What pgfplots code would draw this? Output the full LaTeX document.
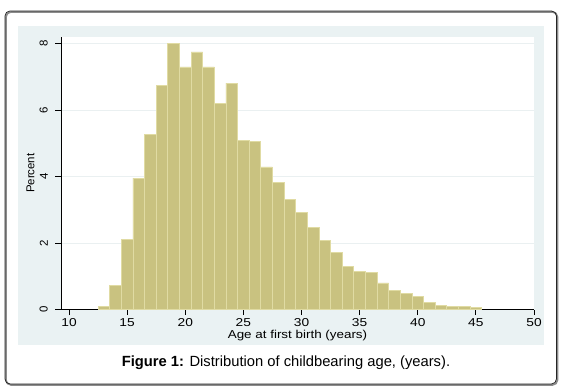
\documentclass[border=0pt]{standalone}
\usepackage{pgfplots}
\pgfplotsset{compat=1.18}
\usepackage{fontspec}
\setmainfont{Liberation Sans}
\definecolor{bgblue}{RGB}{234,242,243}
\definecolor{barfill}{RGB}{201,194,128}
\definecolor{baredge}{RGB}{224,219,163}
\definecolor{gridc}{RGB}{234,240,241}
\begin{document}
\begin{tikzpicture}
\useasboundingbox (0bp,0bp) rectangle (563bp,-389bp);
% outer frame with shadow
\draw[black!45, line width=1.6bp, rounded corners=5bp] (6bp,-12bp) rectangle (557.5bp,-385bp);
\draw[black!85, line width=0.8bp, rounded corners=5bp] (5bp,-11bp) rectangle (556.5bp,-384bp);
\fill[bgblue] (18bp,-26bp) rectangle (544bp,-345bp);
\begin{axis}[
  scale only axis,
  width=473bp, height=272.5bp,
  at={(61bp,-309.5bp)}, anchor=south west,
  xmin=9.31, xmax=50, ymin=0, ymax=8.2,
  axis x line*=bottom, axis y line*=left,
  axis line style={black, line width=0.9bp},
  axis background/.style={fill=white},
  xtick={10,15,...,50}, ytick={0,2,4,6,8},
  tick align=outside, major tick length=5.5bp,
  tick style={black, line width=0.9bp},
  ymajorgrids, major grid style={gridc, line width=1bp},
  /pgf/number format/assume math mode=true,
  tick label style={font=\fontsize{11.5}{12}\selectfont},
  xticklabel style={xscale=1.2, anchor=north, inner sep=0pt, yshift=-3bp},
  yticklabel style={rotate=90, anchor=south, inner sep=0pt, yshift=7.5bp},
  xlabel={Age at first birth (years)},
  ylabel={Percent},
  label style={font=\fontsize{11.5}{12}\selectfont},
  xlabel style={at={(axis description cs:0.5,0)}, anchor=base, yshift=-28.5bp, xscale=1.17},
  ylabel style={at={(axis description cs:0,0.5)}, anchor=base, yshift=26.5bp},
]
\addplot[ybar interval, fill=barfill, draw=baredge, line width=0.8bp] coordinates {
(12.5,0.10) (13.5,0.72) (14.5,2.11) (15.5,3.95) (16.5,5.27) (17.5,6.75)
(18.5,8.00) (19.5,7.30) (20.5,7.75) (21.5,7.30) (22.5,6.21) (23.5,6.81)
(24.5,5.09) (25.5,5.06) (26.5,4.29) (27.5,3.83) (28.5,3.32) (29.5,2.92)
(30.5,2.47) (31.5,2.08) (32.5,1.71) (33.5,1.29) (34.5,1.15) (35.5,1.11)
(36.5,0.80) (37.5,0.57) (38.5,0.47) (39.5,0.39) (40.5,0.20) (41.5,0.12)
(42.5,0.09) (43.5,0.08) (44.5,0.05) (45.5,0.05)
};
\end{axis}
\node[anchor=base, font=\fontsize{14.8}{16}\selectfont] at (286bp,-366bp) {\textbf{Figure 1:} Distribution of childbearing age, (years).};
\end{tikzpicture}
\end{document}
